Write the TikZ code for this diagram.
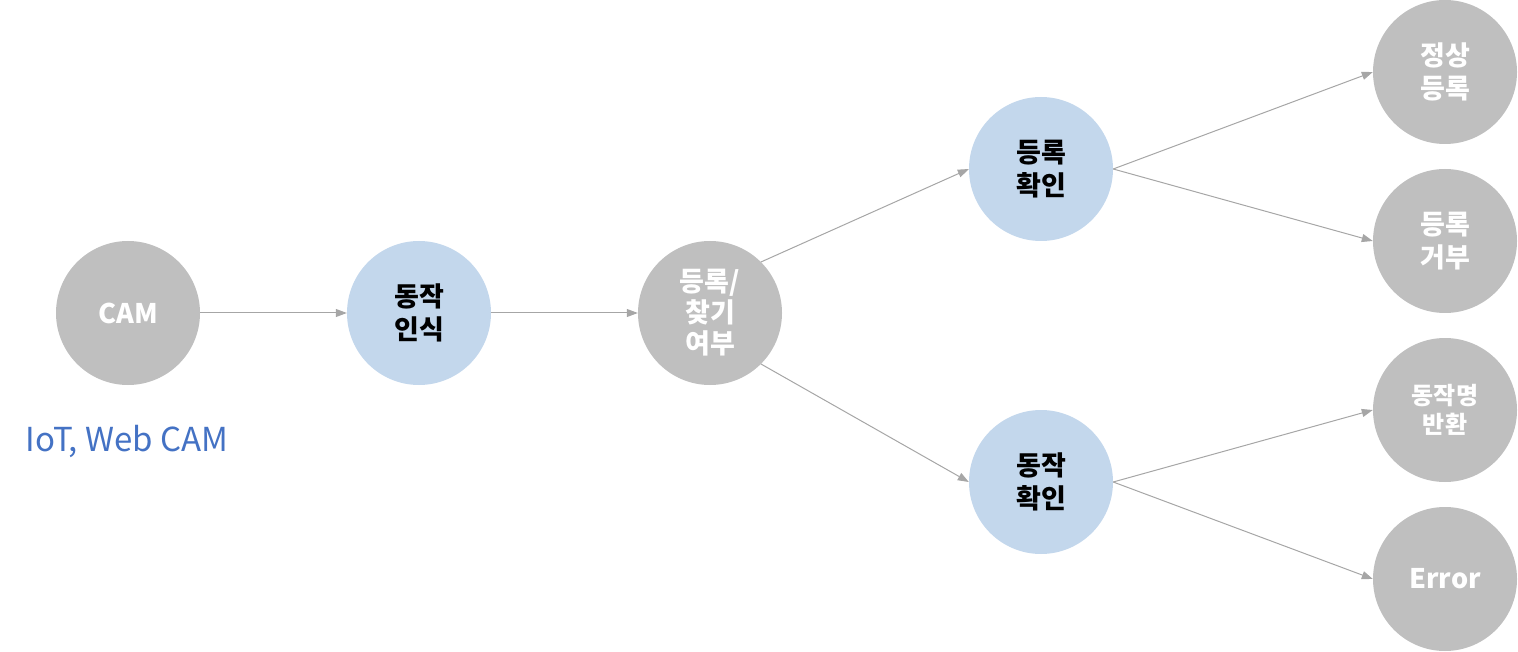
\documentclass[tikz,border=0pt]{standalone}
\usepackage{fontspec}
\setmainfont{Noto Sans CJK KR}
\usetikzlibrary{arrows.meta}
\definecolor{cgray}{HTML}{BFBFBF}
\definecolor{cblue}{HTML}{C3D7EC}
\definecolor{lgray}{HTML}{A6A6A6}
\definecolor{lblue}{HTML}{4472C4}
\tikzset{
  circ/.style={circle, minimum size=144pt, inner sep=0pt, align=center, font=\fontsize{27}{33}\selectfont\bfseries},
  graycirc/.style={circ, fill=cgray, text=white},
  bluecirc/.style={circ, fill=cblue, text=black},
  conn/.style={draw=lgray, line width=1pt, -{Triangle[length=11pt,width=8pt]}, shorten >=0pt}
}
\begin{document}
\begin{tikzpicture}[x=1pt,y=-1pt]
\useasboundingbox (0,0) rectangle (1518,652);
\node[graycirc] (cam) at (128,313) {CAM};
\node[bluecirc] (rec) at (419,313) {동작\\인식};
\node[graycirc, font=\fontsize{27}{31}\selectfont\bfseries] (q) at (710,313) {등록/\\찾기\\여부};
\node[bluecirc] (reg) at (1041,169) {등록\\확인};
\node[bluecirc] (act) at (1041,482) {동작\\확인};
\node[graycirc] (ok) at (1445,72) {정상\\등록};
\node[graycirc] (rej) at (1445,241) {등록\\거부};
\node[graycirc, font=\fontsize{24}{29}\selectfont\bfseries] (nm) at (1445,410) {동작명\\반환};
\node[graycirc] (err) at (1445,579) {Error};
\node[text=lblue, font=\fontsize{33}{38}\selectfont, anchor=base west] (lbl) at (22,451) {IoT, Web CAM};
\draw[conn] (cam.east) -- (rec.west);
\draw[conn] (rec.east) -- (q.west);
\draw[conn] (q.45) -- (reg.west);
\draw[conn] (q.-45) -- (act.west);
\draw[conn] (reg.east) -- (ok.west);
\draw[conn] (reg.east) -- (rej.west);
\draw[conn] (act.east) -- (nm.west);
\draw[conn] (act.east) -- (err.west);
\end{tikzpicture}
\end{document}
